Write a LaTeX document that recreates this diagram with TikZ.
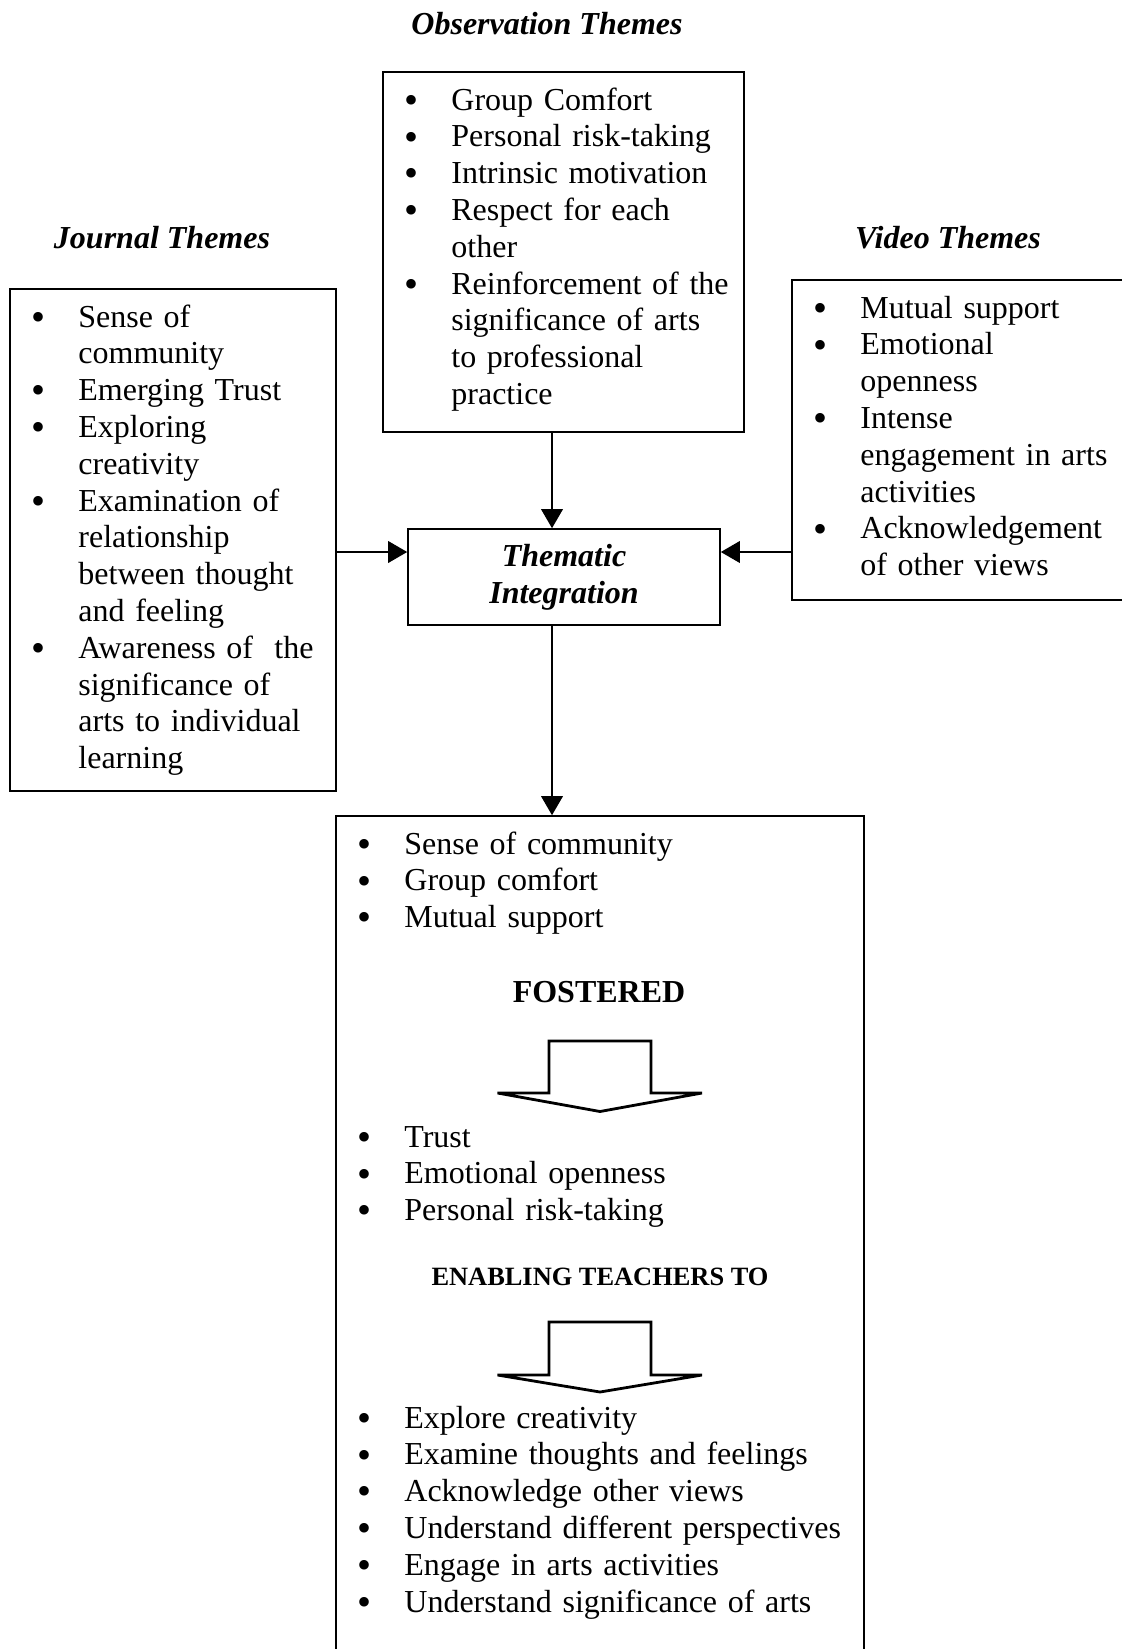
\documentclass[tikz,border=0pt]{standalone}
\usepackage{fontspec}
\setmainfont{Liberation Serif}
\usetikzlibrary{arrows.meta,fit}

\newcommand\themeitem[1]{\setlength\parskip{0pt}\setlength\parindent{0pt}%
  \hangindent=23pt\hangafter=1\noindent
  \hbox to 23pt{\hskip-0.6pt\lower1.6pt\hbox{\fontsize{20}{0}\selectfont\textbullet}\hfil}#1\par}

\tikzset{
  frame/.style={draw, line width=0.8pt, inner sep=0pt},
  themelist/.style={anchor=base west, inner sep=0pt, text width=300pt,
    font=\fontsize{16}{18.4}\selectfont},
  heading/.style={anchor=base, inner sep=0pt, font=\fontsize{16}{18.4}\selectfont\bfseries\itshape},
  flow/.style={line width=0.8pt, -{Triangle[length=9.5pt,width=10.8pt]}},
  blockarrow/.style={draw, line width=1.4pt, line join=miter, fill=white}
}

\begin{document}
\begin{tikzpicture}[x=0.5pt,y=-0.5pt]
\useasboundingbox (0,0) rectangle (1122,1649);

% headings
\node[heading] (obstitle) at (547,34) {Observation Themes};
\node[heading] (jtitle) at (162,248) {Journal Themes};
\node[heading] (vtitle) at (948,248) {Video Themes};

% frames
\node[frame, fit={(383,72) (744,432)}] (obs) {};
\node[frame, fit={(10,289) (336,791)}] (jbox) {};
\node[frame, fit={(792,280) (1135,600)}] (vbox) {};
\node[frame, fit={(336,816) (864,1665)}] (out) {};
\node[frame, minimum width=156pt, minimum height=48pt, align=center,
  font=\fontsize{16}{18.4}\selectfont\bfseries\itshape] (them) at (564,577) {Thematic\\Integration};

% observation themes
\node[themelist] (obslist) at (405,110) {%
  \themeitem{Group Comfort}%
  \themeitem{Personal risk-taking}%
  \themeitem{Intrinsic motivation}%
  \themeitem{Respect for each\newline other}%
  \themeitem{Reinforcement of the\newline significance of arts\newline to professional\newline practice}};

% journal themes
\node[themelist] (jlist) at (32,327) {%
  \themeitem{Sense of\newline community}%
  \themeitem{Emerging Trust}%
  \themeitem{Exploring\newline creativity}%
  \themeitem{Examination of\newline relationship\newline between thought\newline and feeling}%
  \themeitem{Awareness of\ \ the\newline significance of\newline arts to individual\newline learning}};

% video themes
\node[themelist] (vlist) at (814,318) {%
  \themeitem{Mutual support}%
  \themeitem{Emotional\newline openness}%
  \themeitem{Intense\newline engagement in arts\newline activities}%
  \themeitem{Acknowledgement\newline of other views}};

% outcome box
\node[themelist] (outa) at (358,854) {%
  \themeitem{Sense of community}%
  \themeitem{Group comfort}%
  \themeitem{Mutual support}};
\node[anchor=base, inner sep=0pt, font=\fontsize{16}{18.4}\selectfont\bfseries] (fostered) at (599,1002) {FOSTERED};
\draw[blockarrow] (549,1041) -- (651,1041) -- (651,1093) -- (702,1093) -- (600,1111.5)
  -- (497.5,1093) -- (549,1093) -- cycle;
\node[themelist] (outb) at (358,1147) {%
  \themeitem{Trust}%
  \themeitem{Emotional openness}%
  \themeitem{Personal risk-taking}};
\node[anchor=base, inner sep=0pt, font=\fontsize{13.2}{15}\selectfont\bfseries] (enabling) at (600,1285) {ENABLING TEACHERS TO};
\draw[blockarrow] (549,1322) -- (651,1322) -- (651,1375) -- (702,1375) -- (600,1392)
  -- (497.5,1375) -- (549,1375) -- cycle;
\node[themelist] (outc) at (358,1428) {%
  \themeitem{Explore creativity}%
  \themeitem{Examine thoughts and feelings}%
  \themeitem{Acknowledge other views}%
  \themeitem{Understand different perspectives}%
  \themeitem{Engage in arts activities}%
  \themeitem{Understand significance of arts}};

% connectors
\coordinate (mid) at (552,0);
\coordinate (side) at (0,552);
\draw[flow] (obs.south -| mid) -- (them.north -| mid);
\draw[flow] (them.south -| mid) -- (out.north -| mid);
\draw[flow] (jbox.east |- side) -- (them.west |- side);
\draw[flow] (vbox.west |- side) -- (them.east |- side);
\end{tikzpicture}
\end{document}
